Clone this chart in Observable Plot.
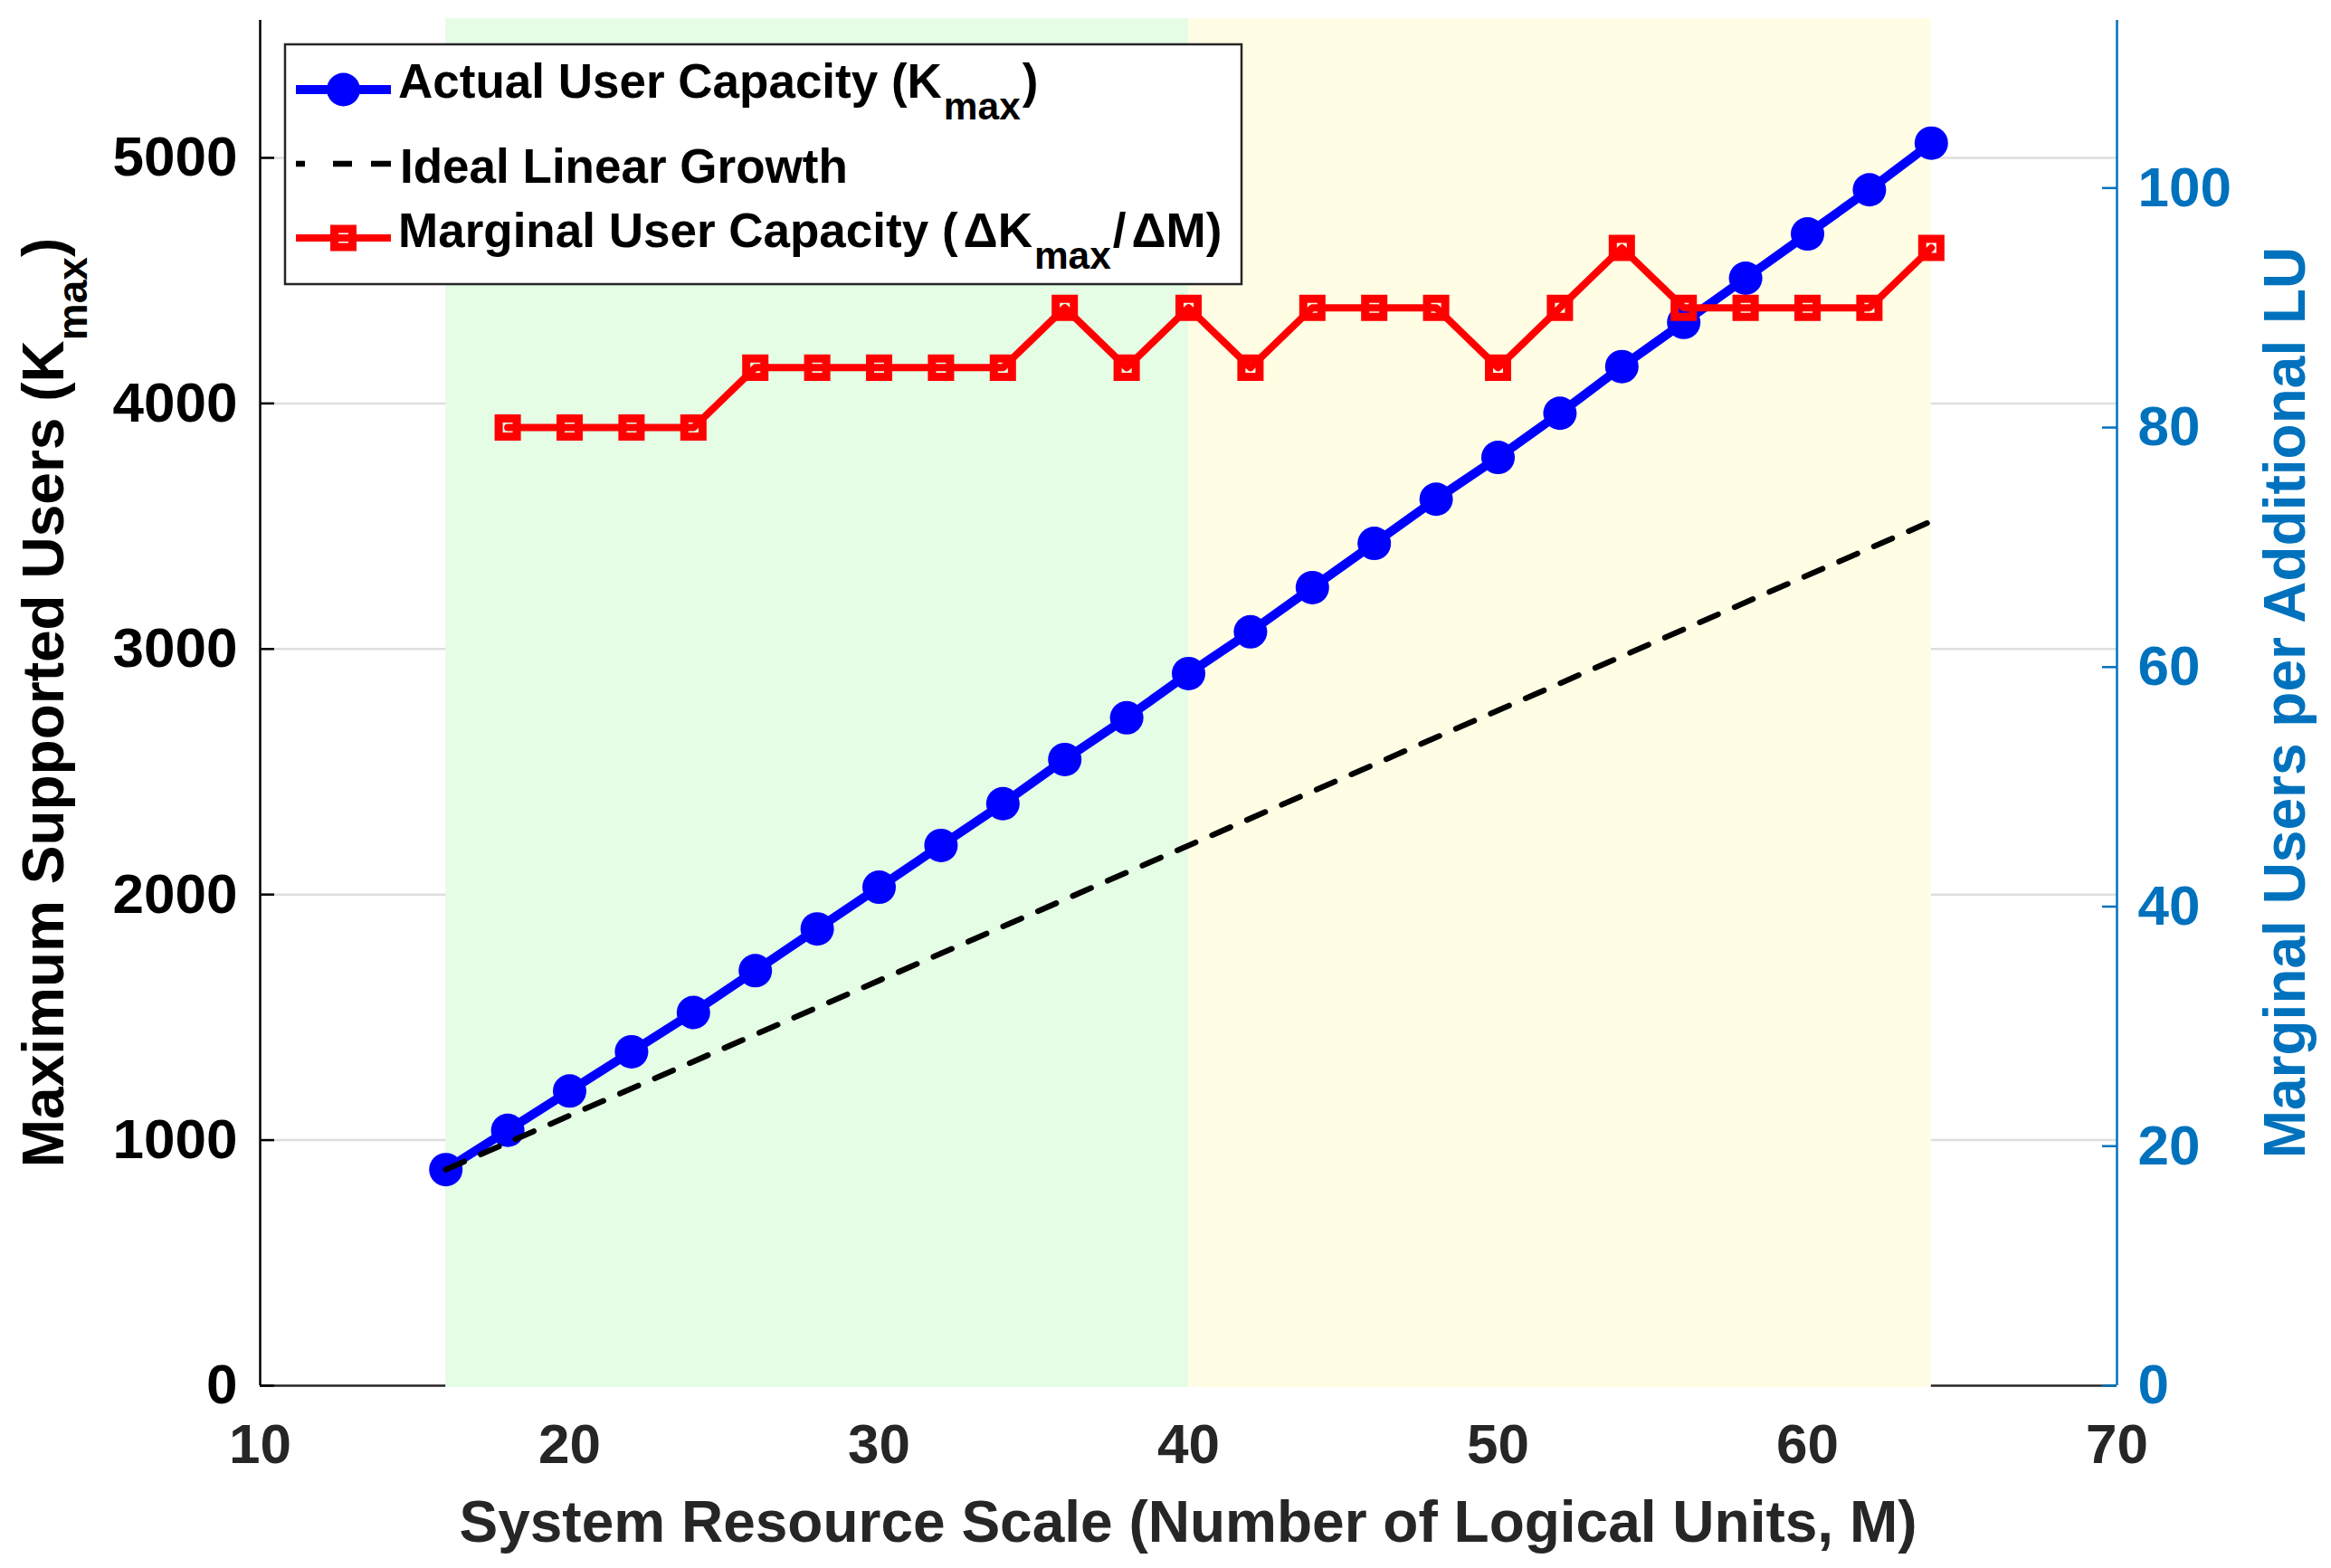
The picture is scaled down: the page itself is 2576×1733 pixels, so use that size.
<!DOCTYPE html>
<html><head><meta charset="utf-8">
<script src="https://cdn.jsdelivr.net/npm/d3@7"></script>
<script src="https://cdn.jsdelivr.net/npm/@observablehq/plot@0.6"></script>
<style>
html,body{margin:0;padding:0;background:#fff;overflow:hidden;}
</style></head><body><div id="chart"></div>
<script>
// ---- data ----
const M = [16,18,20,22,24,26,28,30,32,34,36,38,40,42,44,46,48,50,52,54,56,58,60,62,64];
const Kmax = [880,1040,1200,1360,1520,1690,1860,2030,2200,2370,2550,2720,2900,3070,3250,3430,3610,3780,3960,4150,4330,4510,4690,4870,5060];
const marginalM = [18,20,22,24,26,28,30,32,34,36,38,40,42,44,46,48,50,52,54,56,58,60,62,64];
const marginal = [80,80,80,80,85,85,85,85,85,90,85,90,85,90,90,90,85,90,95,90,90,90,90,95];
const idealM = [16,64];
const ideal = [880,3520];
const xTicks = [10,20,30,40,50,60,70];
const leftTicks = [0,1000,2000,3000,4000,5000];
const rightTicks = [0,20,40,60,80,100];
const zoneFrom = [16,40];
const zoneTo = [40,64];
const zoneColors = ["#e5fce5","#fffee5"];
const xDomain = [10,70];
const leftMax = 5560;
const rightMax = 114;

// ---- layout ----
const W = 2576, H = 1733, mL = 287, mR = 237, mT = 22, mB = 202;
const plotW = W - mL - mR;
const k = leftMax / rightMax;
const FONT = '"Liberation Sans", Arial, Helvetica, sans-serif';
const BLUE_AX = "#0072BD";

const kData = M.map((m,i)=>({M:m, K:Kmax[i]}));
const margData = marginalM.map((m,i)=>({M:m, v:marginal[i]}));
const idealData = idealM.map((m,i)=>({M:m, K:ideal[i]}));
const zones = zoneFrom.map((f,i)=>({from:f, to:zoneTo[i], fill:zoneColors[i]}));

const plot = Plot.plot({
  width: W, height: H,
  marginLeft: mL, marginRight: mR, marginTop: mT, marginBottom: mB,
  x: {domain: xDomain},
  y: {domain: [0, leftMax]},
  color: {type: "identity"},
  style: {fontFamily: FONT, background: "white", overflow: "visible"},
  marks: [
    Plot.ruleY(leftTicks.filter(d=>d>0), {stroke: "#dedede", strokeWidth: 2.5}),
    Plot.ruleY([0], {stroke: "#262626", strokeWidth: 2.5}),
    Plot.rect(zones, {x1: "from", x2: "to", y1: 0, y2: leftMax, fill: "fill", insetBottom: -2, insetTop: -2}),
    Plot.ruleX([xDomain[0]], {stroke: "black", strokeWidth: 2.5}),
    Plot.ruleX([xDomain[1]], {stroke: BLUE_AX, strokeWidth: 2.5}),
    Plot.tickY(leftTicks, {y: d=>d, stroke: "black", strokeWidth: 2.5, insetRight: plotW - 16}),
    Plot.tickY(rightTicks, {y: d=>d*k, stroke: BLUE_AX, strokeWidth: 2.5, insetLeft: plotW - 16}),
    Plot.axisX(xTicks, {tickSize: 0, tickPadding: 41, fontSize: 62, fontWeight: "bold", color: "#262626", label: null, tickFormat: d=>String(d)}),
    Plot.axisY(leftTicks, {anchor: "left", tickSize: 0, tickPadding: 25, fontSize: 62, fontWeight: "bold", color: "black", label: null, tickFormat: d=>String(d)}),
    Plot.axisY(rightTicks.map(v=>v*k), {anchor: "right", tickSize: 0, tickPadding: 23, fontSize: 62, fontWeight: "bold", color: BLUE_AX, label: null, tickFormat: d=>String(Math.round(d/k))}),
    Plot.line(kData, {x: "M", y: "K", stroke: "#0000FF", strokeWidth: 10}),
    Plot.dot(kData, {x: "M", y: "K", r: 18.5, fill: "#0000FF", stroke: "none"}),
    Plot.line(idealData, {x: "M", y: "K", stroke: "black", strokeWidth: 6.3, strokeDasharray: "22,20"}),
    Plot.line(margData, {x: "M", y: d=>d.v*k, stroke: "#FF0000", strokeWidth: 8}),
    Plot.dot(margData, {x: "M", y: d=>d.v*k, symbol: "square", r: 11.3, stroke: "#FF0000", strokeWidth: 9, fill: "none"})
  ]
});
document.getElementById("chart").appendChild(plot);

// ---- axis labels and legend (text with subscripts) ----
const svg = d3.select(plot);
// parts: [text, isSub, dx]
function subText(g, parts, size, ratio, shift) {
  parts.forEach(([t, sub, dx], i) => {
    const ts = g.append("tspan").text(t);
    if (dx) ts.attr("dx", dx);
    if (sub) { ts.attr("font-size", size*ratio).attr("dy", size*shift); }
    else if (i > 0 && parts[i-1][1]) { ts.attr("font-size", size).attr("dy", -size*shift); }
  });
}
const LBL = 64;
const leftLabel = svg.append("text")
  .attr("transform", `translate(70,${(mT + H - mB)/2}) rotate(-90)`)
  .attr("text-anchor", "middle").attr("font-family", FONT).attr("font-weight", "bold")
  .attr("font-size", LBL).attr("fill", "black");
subText(leftLabel, [["Maximum Supported Users (K", false], ["max", true], [")", false]], LBL, 0.72, 0.4);

svg.append("text")
  .attr("transform", `translate(2547,${(mT + H - mB)/2}) rotate(-90)`)
  .attr("text-anchor", "middle").attr("font-family", FONT).attr("font-weight", "bold")
  .attr("font-size", LBL).attr("fill", BLUE_AX)
  .text("Marginal Users per Additional LU");

svg.append("text")
  .attr("x", mL + plotW/2).attr("y", 1704)
  .attr("text-anchor", "middle").attr("font-family", FONT).attr("font-weight", "bold")
  .attr("font-size", LBL).attr("fill", "#262626")
  .text("System Resource Scale (Number of Logical Units, M)");

// legend
const LG = 53;
const lg = svg.append("g").attr("text-anchor", "start");
lg.append("rect").attr("x", 315).attr("y", 49).attr("width", 1057).attr("height", 265)
  .attr("fill", "white").attr("stroke", "#262626").attr("stroke-width", 2.5);
const sx1 = 327, sx2 = 432, sxm = 379.5, tx = 440;
// row 1
lg.append("line").attr("x1", sx1).attr("x2", sx2).attr("y1", 99).attr("y2", 99)
  .attr("stroke", "#0000FF").attr("stroke-width", 10);
lg.append("circle").attr("cx", sxm).attr("cy", 99).attr("r", 18.5).attr("fill", "#0000FF");
const t1 = lg.append("text").attr("x", tx).attr("y", 108).attr("font-family", FONT)
  .attr("text-anchor", "start").attr("font-weight", "bold").attr("font-size", LG).attr("fill", "black");
subText(t1, [["Actual User Capacity (K", false], ["max", true, 2], [")", false, 2]], LG, 0.8, 0.45);
// row 2
lg.append("line").attr("x1", sx1).attr("x2", sx2).attr("y1", 181).attr("y2", 181)
  .attr("stroke", "black").attr("stroke-width", 6.3).attr("stroke-dasharray", "10,31,21,21,22");
lg.append("text").attr("x", tx + 2).attr("y", 202).attr("font-family", FONT)
  .attr("text-anchor", "start").attr("font-weight", "bold").attr("font-size", LG).attr("fill", "black")
  .text("Ideal Linear Growth");
// row 3
lg.append("line").attr("x1", sx1).attr("x2", sx2).attr("y1", 263).attr("y2", 263)
  .attr("stroke", "#FF0000").attr("stroke-width", 8);
lg.append("rect").attr("x", sxm - 10).attr("y", 263 - 10).attr("width", 20).attr("height", 20)
  .attr("fill", "none").attr("stroke", "#FF0000").attr("stroke-width", 9);
const t3 = lg.append("text").attr("x", tx).attr("y", 273).attr("font-family", FONT)
  .attr("text-anchor", "start").attr("font-weight", "bold").attr("font-size", LG).attr("fill", "black");
subText(t3, [["Marginal User Capacity (", false], ["\u0394K", false, 6], ["max", true, 2], ["/", false, 2], ["\u0394M)", false, 6]], LG, 0.8, 0.45);
</script>
</body></html>
